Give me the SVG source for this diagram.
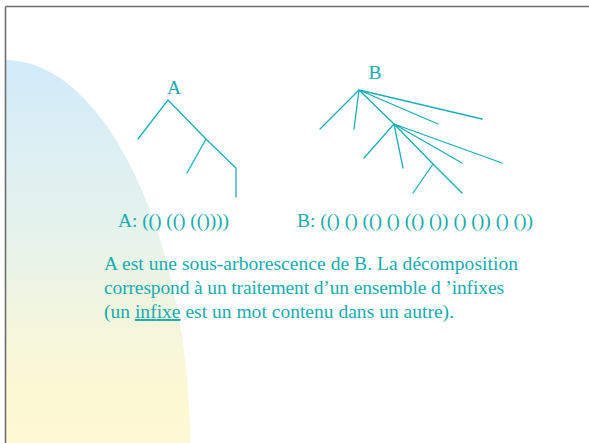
<svg xmlns="http://www.w3.org/2000/svg" width="589" height="443" viewBox="0 0 589 443">
<defs>
<linearGradient id="bg" x1="0" y1="60" x2="0" y2="443" gradientUnits="userSpaceOnUse">
<stop offset="0" stop-color="#d2ebfa"/>
<stop offset="0.45" stop-color="#e6f3ec"/>
<stop offset="0.85" stop-color="#fcf8d4"/>
<stop offset="1" stop-color="#fef9d2"/>
</linearGradient>
<style>
.t{font-family:"Liberation Serif","Times New Roman",serif;font-size:19.5px;fill:#17acae}
.e{stroke:#1aafb6;stroke-width:1.3;fill:none;stroke-linecap:round}
</style>
</defs>
<rect width="589" height="443" fill="#ffffff"/>
<path d="M5,60 C110,60 190,250 190,443 L5,443 Z" fill="url(#bg)"/>
<g id="frame" stroke="#6e6e6e" stroke-width="1.6" fill="none">
<line x1="5.5" y1="6.5" x2="589" y2="6.5"/>
<line x1="5.5" y1="6.5" x2="5.5" y2="443"/>
</g>
<g id="treeA">
<text class="t" x="174" y="94" text-anchor="middle">A</text>
</g>
<g id="treeB">
<text class="t" x="375" y="79" text-anchor="middle">B</text>
</g>
<g id="connectors" class="e">
<path class="e" d="M168,100 L138,139 M168,100 L206,139 L236,168 L236,197 M206,139 L187,173"/>
<path class="e" d="M359,90 L320,129 M359,90 L354,129 M359,90 L394,124 M359,90 L438,124 M359,90 L482,119"/>
<path class="e" d="M394,124 L364,158 M394,124 L403,168 M394,124 L433,164 L462,193 M394,124 L462,163 M394,124 L502,163 M433,164 L413,193"/>
</g>
<g id="codes">
<text class="t" x="118" y="227" textLength="111" lengthAdjust="spacing">A: (() (() (())))</text>
<text class="t" x="297" y="227" textLength="236" lengthAdjust="spacing">B: (() () (() () (() ()) () ()) () ())</text>
</g>
<g id="paragraph">
<text class="t" x="104" y="270" textLength="414" lengthAdjust="spacing">A est une sous-arborescence de B. La décomposition</text>
<text class="t" x="104" y="294" textLength="400" lengthAdjust="spacing">correspond à un traitement d’un ensemble d ’infixes</text>
<text class="t" x="104" y="318" textLength="350" lengthAdjust="spacing">(un <tspan text-decoration="underline">infixe</tspan> est un mot contenu dans un autre).</text>
</g>
</svg>
